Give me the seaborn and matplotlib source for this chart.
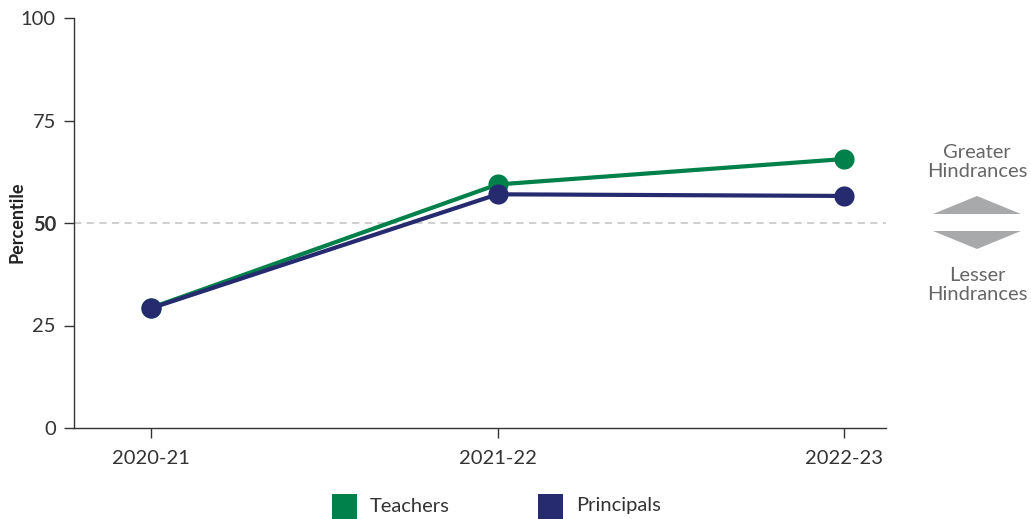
import matplotlib
matplotlib.use("Agg")
import matplotlib.pyplot as plt
from matplotlib.patches import Polygon, Rectangle
import seaborn as sns
import pandas as pd

# Data
years = ["2020-21", "2021-22", "2022-23"]
teachers = [29.3, 59.4, 65.6]
principals = [29.2, 57.0, 56.6]
groups = ["Teachers", "Principals"]
colors = {"Teachers": "#00804A", "Principals": "#262A6E"}
y_ticks = [0, 25, 50, 75, 100]

df = pd.DataFrame({
    "year": years * 2,
    "x": list(range(len(years))) * 2,
    "value": teachers + principals,
    "group": ["Teachers"] * 3 + ["Principals"] * 3,
})

sns.set_theme(style="white")
plt.rcParams["font.family"] = ["Lato", "DejaVu Sans"]

fig = plt.figure(figsize=(10.31, 5.19), dpi=100)
ax = fig.add_axes([74 / 1031, (519 - 428) / 519, (886 - 74) / 1031, (428 - 18) / 519])

ax.axhline(50, color="#cccccc", lw=1.3, ls=(0, (4, 3)), zorder=0)

sns.lineplot(data=df, x="x", y="value", hue="group", hue_order=groups,
             palette=colors, marker="o", markersize=14.5, markeredgewidth=0,
             linewidth=3, ax=ax, legend=False)

ax.set_xlim(-0.222, 2.121)
ax.set_ylim(0, 100)
ax.set_xticks(range(len(years)))
ax.set_xticklabels(years, fontsize=14.5, color="#333333")
ax.set_yticks(y_ticks)
ax.set_yticklabels([str(t) for t in y_ticks], fontsize=14.5, color="#333333")
for lab in ax.get_yticklabels():
    if lab.get_text() == "50":
        lab.set_fontweight("bold")
ax.tick_params(axis="both", length=7, width=1, color="#333333", pad=6,
               bottom=True, left=True)
ax.tick_params(axis="x", pad=9)
ax.set_xlabel("")
ax.set_ylabel("")
for s in ["top", "right"]:
    ax.spines[s].set_visible(False)
for s in ["left", "bottom"]:
    ax.spines[s].set_color("#333333")
    ax.spines[s].set_linewidth(1)

fig.text(17 / 1031, 1 - 222 / 519, "Percentile", rotation=90, fontsize=13,
         fontweight="bold", color="#222222", ha="center", va="center")

# Legend drawn as filled squares with labels
def px(x, y):
    return x / 1031, 1 - y / 519

for name, sx, tx in [("Teachers", 332, 370), ("Principals", 538, 576)]:
    x0, y0 = px(sx, 519)
    fig.patches.append(Rectangle((x0, y0), 25 / 1031, 25 / 519, transform=fig.transFigure,
                                 facecolor=colors[name], edgecolor="none"))
    fig.text(tx / 1031, 1 - 506 / 519, name, fontsize=14.5, color="#333333", va="center", ha="left")

# Hindrance indicator on the right
fig.text(977 / 1031, 1 - 162 / 519, "Greater\nHindrances", fontsize=14.5, color="#666666",
         ha="center", va="center", linespacing=1.1)
fig.text(977 / 1031, 1 - 285 / 519, "Lesser\nHindrances", fontsize=14.5, color="#666666",
         ha="center", va="center", linespacing=1.1)
up = [px(933, 214), px(1021, 214), px(977, 196)]
down = [px(933, 231), px(1021, 231), px(977, 249)]
for tri in (up, down):
    fig.patches.append(Polygon(tri, closed=True, transform=fig.transFigure,
                               facecolor="#a8a9ab", edgecolor="none"))

fig.savefig("out.png", dpi=100)
